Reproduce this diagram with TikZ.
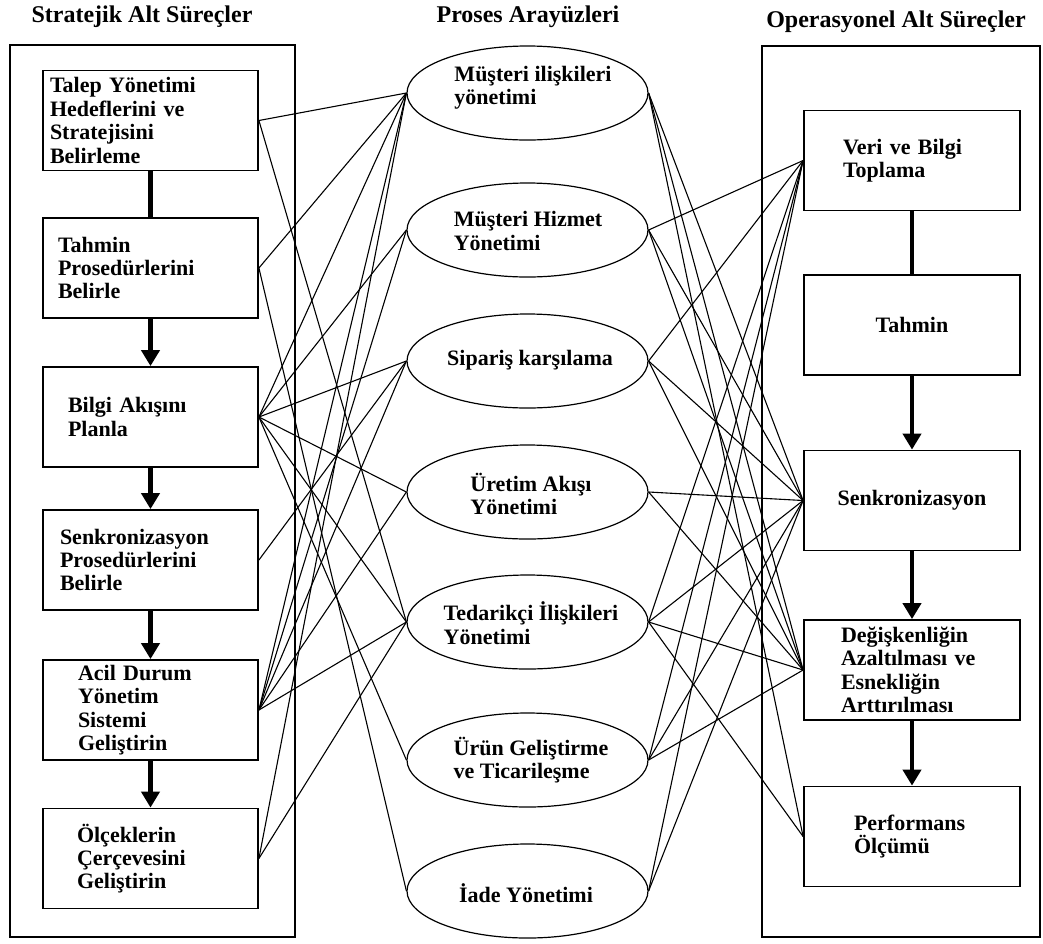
\documentclass[tikz,border=0pt]{standalone}
\usepackage{fontspec}
\setmainfont{Liberation Serif}
\usetikzlibrary{shapes.geometric,arrows.meta}

\begin{document}
\begin{tikzpicture}[x=0.5pt,y=-0.5pt]
\tikzstyle{every node}+=[font=\bfseries\fontsize{11}{11.7}\selectfont]
\tikzstyle{frame}=[draw,line width=0.9pt]
\tikzstyle{sbox}=[draw,line width=0.9pt,minimum width=107.5pt,minimum height=50pt,inner ysep=0pt,align=left]
\tikzstyle{obox}=[draw,line width=0.9pt,minimum width=108pt,minimum height=50pt,inner ysep=0pt,align=left]
\tikzstyle{iface}=[draw,ellipse,line width=0.6pt,minimum width=120.5pt,minimum height=47pt,inner sep=0pt]
\tikzstyle{itext}=[inner sep=0pt,align=left]
\tikzstyle{head}=[font=\bfseries\fontsize{12}{14}\selectfont]
\tikzstyle{link}=[line width=0.55pt]
\tikzstyle{bar}=[line width=2.2pt]
\tikzstyle{flow}=[line width=2.2pt,-{Triangle[width=9pt,length=8pt]}]
\useasboundingbox (0,0) rectangle (1043,943);
\draw [frame] (10,45) rectangle (295,937);
\draw [frame] (762,46) rectangle (1040,937);
\node [head] (hs) at (142,17) {Stratejik Alt Süreçler};
\node [head] (hp) at (528,17) {Proses Arayüzleri};
\node [head] (ho) at (896,22) {Operasyonel Alt Süreçler};
\node [sbox,inner xsep=3.5pt,text width=100.5pt] (s1) at (150.5,120.5) {Talep Yönetimi\\Hedeflerini ve\\Stratejisini\\Belirleme};
\node [sbox,inner xsep=7.5pt,text width=92.5pt] (s2) at (150.5,268) {Tahmin\\Prosedürlerini\\Belirle};
\node [sbox,inner xsep=12.5pt,text width=82.5pt] (s3) at (150.5,417) {Bilgi Akışını\\Planla};
\node [sbox,inner xsep=8.5pt,text width=90.5pt] (s4) at (150.5,560) {Senkronizasyon\\Prosedürlerini\\Belirle};
\node [sbox,inner xsep=17.5pt,text width=72.5pt] (s5) at (150.5,710) {Acil Durum\\Yönetim\\Sistemi\\Geliştirin};
\node [sbox,inner xsep=17pt,text width=73.5pt] (s6) at (150.5,858.5) {Ölçeklerin\\Çerçevesini\\Geliştirin};
\node [iface] (p1) at (527.5,93) {};
\node [iface] (p2) at (527.5,230) {};
\node [iface] (p3) at (527.5,361) {};
\node [iface] (p4) at (527.5,492) {};
\node [iface] (p5) at (527.5,622) {};
\node [iface] (p6) at (527.5,760) {};
\node [iface] (p7) at (527.5,891) {};
\node [itext] (p1t) at (533,88) {Müşteri ilişkileri\\yönetimi};
\node [itext] (p2t) at (528,231) {Müşteri Hizmet\\Yönetimi};
\node [itext] (p3t) at (530,360) {Sipariş karşılama};
\node [itext] (p4t) at (531,494) {Üretim Akışı\\Yönetimi};
\node [itext] (p5t) at (531,623) {Tedarikçi İlişkileri\\Yönetimi};
\node [itext] (p6t) at (531,760) {Ürün Geliştirme\\ve Ticarileşme};
\node [itext] (p7t) at (526,893) {İade Yönetimi};
\node [obox,inner xsep=19.5pt,text width=69pt] (o1) at (912,160.5) {Veri ve Bilgi\\Toplama};
\node [obox] (o2) at (912,325) {Tahmin};
\node [obox] (o3) at (912,500.5) {Senkronizasyon};
\node [obox,inner xsep=18.5pt,text width=71pt] (o4) at (912,670) {Değişkenliğin\\Azaltılması ve\\Esnekliğin\\Arttırılması};
\node [obox,inner xsep=25pt,text width=58pt] (o5) at (912,836.5) {Performans\\Ölçümü};
\draw [bar] (s1) -- (s2);
\draw [flow] (s2) -- (s3);
\draw [flow] (s3) -- (s4);
\draw [flow] (s4) -- (s5);
\draw [flow] (s5) -- (s6);
\draw [bar] (o1) -- (o2);
\draw [flow] (o2) -- (o3);
\draw [flow] (o3) -- (o4);
\draw [flow] (o4) -- (o5);
\draw [link] (s1.east) -- (p1.west);
\draw [link] (s1.east) -- (p5.west);
\draw [link] (s2.east) -- (p1.west);
\draw [link] (s2.east) -- (p7.west);
\draw [link] (s3.east) -- (p1.west);
\draw [link] (s3.east) -- (p2.west);
\draw [link] (s3.east) -- (p3.west);
\draw [link] (s3.east) -- (p4.west);
\draw [link] (s3.east) -- (p5.west);
\draw [link] (s3.east) -- (p6.west);
\draw [link] (s4.east) -- (p3.west);
\draw [link] (s5.east) -- (p1.west);
\draw [link] (s5.east) -- (p2.west);
\draw [link] (s5.east) -- (p3.west);
\draw [link] (s5.east) -- (p4.west);
\draw [link] (s5.east) -- (p5.west);
\draw [link] (s6.east) -- (p1.west);
\draw [link] (s6.east) -- (p5.west);
\draw [link] (p1.east) -- (o3.west);
\draw [link] (p1.east) -- (o4.west);
\draw [link] (p1.east) -- (o5.west);
\draw [link] (p2.east) -- (o1.west);
\draw [link] (p2.east) -- (o3.west);
\draw [link] (p2.east) -- (o4.west);
\draw [link] (p3.east) -- (o1.west);
\draw [link] (p3.east) -- (o3.west);
\draw [link] (p3.east) -- (o4.west);
\draw [link] (p4.east) -- (o3.west);
\draw [link] (p4.east) -- (o4.west);
\draw [link] (p5.east) -- (o1.west);
\draw [link] (p5.east) -- (o3.west);
\draw [link] (p5.east) -- (o4.west);
\draw [link] (p5.east) -- (o5.west);
\draw [link] (p6.east) -- (o1.west);
\draw [link] (p6.east) -- (o3.west);
\draw [link] (p6.east) -- (o4.west);
\draw [link] (p7.east) -- (o1.west);
\draw [link] (p7.east) -- (o3.west);
\end{tikzpicture}
\end{document}
